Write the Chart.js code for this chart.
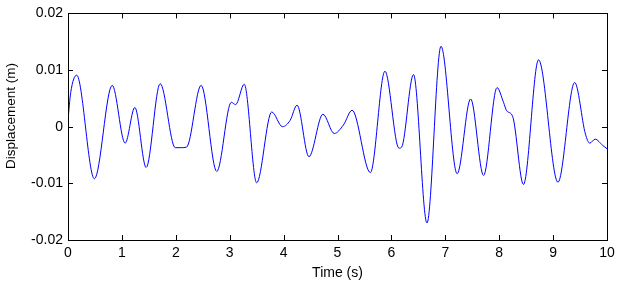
<!DOCTYPE html>
<html>
<head>
<meta charset="utf-8">
<script src="https://cdn.jsdelivr.net/npm/chart.js@4/dist/chart.umd.min.js"></script>
<style>
    body { margin: 0; background: #fff; }
    #wrap { width: 620px; height: 287px; position: relative; }
</style>
</head>
<body>
<div id="wrap"><canvas id="chart"></canvas></div>
<script>
        // time (s) and displacement (m) at peaks, troughs and bends
        const times = [0, 0.05, 0.16, 0.49, 0.82, 1.06, 1.24, 1.45, 1.71, 1.99, 2.1, 2.2, 2.47, 2.76,
            3.03, 3.11, 3.27, 3.5, 3.78, 3.98, 4.12, 4.25, 4.47, 4.73, 4.94, 5.11, 5.27, 5.61, 5.88,
            6.14, 6.19, 6.41, 6.66, 6.92, 7.22, 7.47, 7.71, 7.96, 8.08, 8.14, 8.25, 8.45, 8.73,
            9.09, 9.4, 9.6, 9.68, 9.78, 9.92, 10];
        const displacement = [0.0012, 0.006, 0.0091, -0.0092, 0.0073, -0.0029, 0.0034, -0.0072, 0.0076,
            -0.0037, -0.0037, -0.0036, 0.0073, -0.0079, 0.0043, 0.0039, 0.0075, -0.0099, 0.0026, 0.0,
            0.0011, 0.0038, -0.0053, 0.0022, -0.0012, 0.0003, 0.0029, -0.0081, 0.0098, -0.0038, -0.0036,
            0.0092, -0.017, 0.0142, -0.0083, 0.0049, -0.0086, 0.0069, 0.0043, 0.0028, 0.0018, -0.0102,
            0.0118, -0.0098, 0.0078, -0.0013, -0.0029, -0.0022, -0.0033, -0.0039];

        const xTicks = [0, 1, 2, 3, 4, 5, 6, 7, 8, 9, 10];
        const yTicks = [-0.02, -0.01, 0, 0.01, 0.02];
        const yTickLabels = ['-0.02', '-0.01', '0', '0.01', '0.02'];
        const yTitle = 'Displacement (m)';

        const fontFamily = "'Liberation Sans', Arial, sans-serif";
        const font = { family: fontFamily, size: 14 };

        // MATLAB style box with ticks pointing inward, plus the y title
        const boxPlugin = {
            id: 'box',
            afterDraw(chart) {
                const { ctx, chartArea: a, scales } = chart;
                const len = 5;
                ctx.save();
                ctx.strokeStyle = '#000';
                ctx.lineWidth = 1;
                ctx.beginPath();
                xTicks.forEach(t => {
                    const x = Math.round(scales.x.getPixelForValue(t)) + 0.5;
                    ctx.moveTo(x, a.bottom); ctx.lineTo(x, a.bottom - len);
                    ctx.moveTo(x, a.top); ctx.lineTo(x, a.top + len);
                });
                yTicks.forEach(t => {
                    const y = Math.round(scales.y.getPixelForValue(t)) + 0.5;
                    ctx.moveTo(a.left, y); ctx.lineTo(a.left + len, y);
                    ctx.moveTo(a.right, y); ctx.lineTo(a.right - len, y);
                });
                ctx.stroke();
                ctx.strokeRect(Math.round(a.left) + 0.5, Math.round(a.top) + 0.5,
                    Math.round(a.right - a.left), Math.round(a.bottom - a.top));

                ctx.translate(11, 116);
                ctx.rotate(-Math.PI / 2);
                ctx.fillStyle = '#000';
                ctx.font = '13.5px ' + fontFamily;
                ctx.textAlign = 'center';
                ctx.textBaseline = 'middle';
                ctx.fillText(yTitle, 0, 0);
                ctx.restore();
            }
        };

        new Chart(document.getElementById('chart'), {
            type: 'line',
            data: {
                datasets: [{
                    data: times.map((t, i) => ({ x: t, y: displacement[i] })),
                    borderColor: '#0000ff',
                    borderWidth: 1,
                    pointRadius: 0,
                    cubicInterpolationMode: 'monotone',
                    fill: false
                }]
            },
            options: {
                responsive: true,
                maintainAspectRatio: false,
                animation: false,
                layout: { padding: { left: 0, top: 12, right: 13, bottom: 0 } },
                plugins: { legend: { display: false }, tooltip: { enabled: false } },
                scales: {
                    x: {
                        type: 'linear',
                        min: 0,
                        max: 10,
                        afterFit: s => { s.height = 47; },
                        afterBuildTicks: s => { s.ticks = xTicks.map(v => ({ value: v })); },
                        grid: { display: false, drawTicks: false },
                        border: { display: false },
                        ticks: { color: '#000', font, padding: 5, maxRotation: 0, callback: v => String(v) },
                        title: { display: true, text: 'Time (s)', color: '#000', font, padding: { top: 0, bottom: 5 } }
                    },
                    y: {
                        min: -0.02,
                        max: 0.02,
                        afterFit: s => { s.width = 68; },
                        afterBuildTicks: s => { s.ticks = yTicks.map(v => ({ value: v })); },
                        grid: { display: false, drawTicks: false },
                        border: { display: false },
                        ticks: { color: '#000', font, padding: 5, callback: (v, i) => yTickLabels[i] }
                    }
                }
            },
            plugins: [boxPlugin]
        });
</script>
</body>
</html>
